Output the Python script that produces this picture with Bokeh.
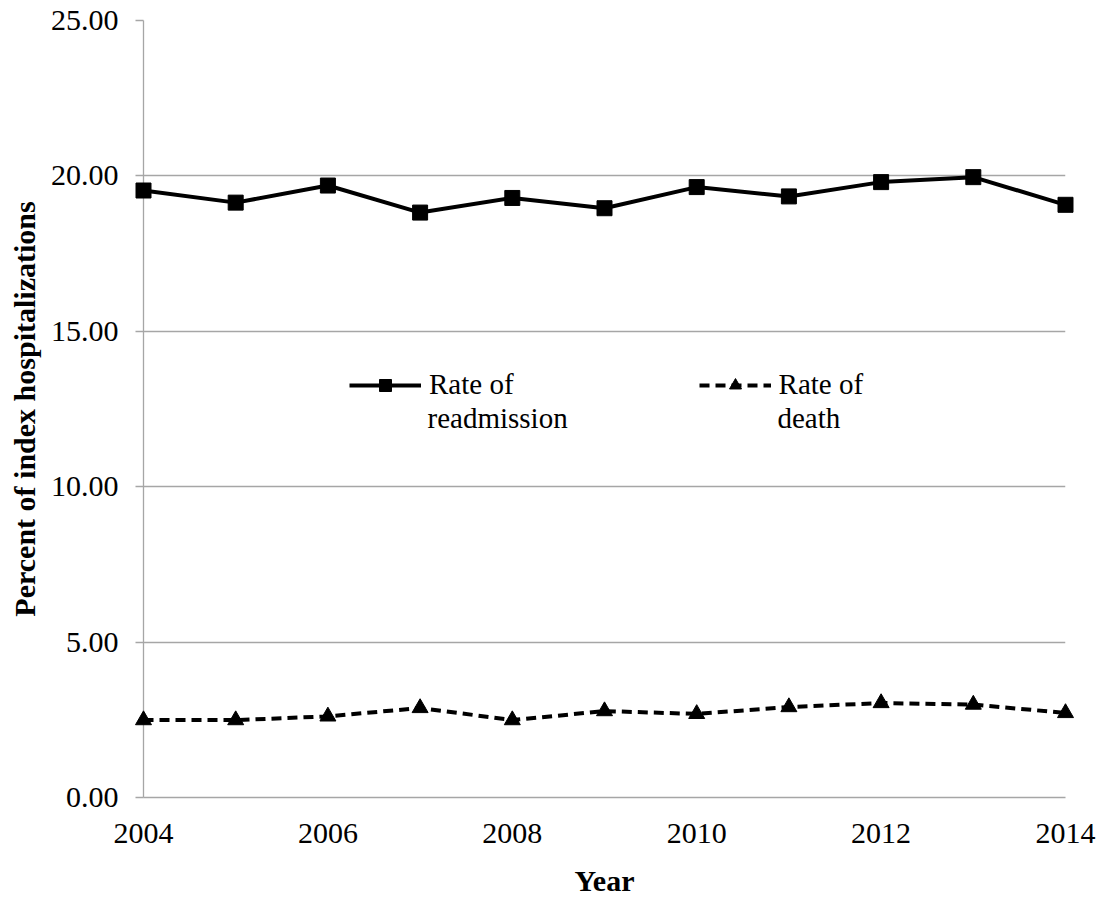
from bokeh.plotting import figure
from bokeh.models import FixedTicker, NumeralTickFormatter, Legend, LegendItem, Range1d, Label
from bokeh.embed import file_html
from bokeh.resources import INLINE

years = [2004, 2005, 2006, 2007, 2008, 2009, 2010, 2011, 2012, 2013, 2014]
readmission = [19.53, 19.14, 19.69, 18.82, 19.29, 18.96, 19.64, 19.34, 19.80, 19.96, 19.07]
death = [2.49, 2.49, 2.61, 2.88, 2.49, 2.78, 2.69, 2.91, 3.04, 2.99, 2.72]
x_ticks = [2004, 2006, 2008, 2010, 2012, 2014]
y_ticks = [0, 5, 10, 15, 20, 25]
series_first_line = ["Rate of", "Rate of"]
series_second_line = ["readmission", "death"]

FONT = "Liberation Serif"
GRID = "#a6a6a6"

p = figure(width=1118, height=899, output_backend="svg", toolbar_location=None,
           x_range=Range1d(2004, 2014), y_range=Range1d(0, 25),
           min_border_left=143, min_border_right=53, min_border_top=20, min_border_bottom=98)
p.outline_line_color = None
p.background_fill_color = "white"
p.border_fill_color = "white"

p.xgrid.grid_line_color = None
p.ygrid.grid_line_color = GRID
p.ygrid.grid_line_width = 1.3
p.ygrid.ticker = FixedTicker(ticks=y_ticks)

p.xaxis.ticker = FixedTicker(ticks=x_ticks)
p.yaxis.ticker = FixedTicker(ticks=y_ticks)
p.yaxis.formatter = NumeralTickFormatter(format="0.00")
for ax in (p.xaxis, p.yaxis):
    ax.axis_line_color = GRID
    ax.axis_line_width = 1.3
    ax.major_tick_line_color = GRID
    ax.major_tick_line_width = 1.3
    ax.minor_tick_line_color = None
    ax.major_label_text_font = FONT
    ax.major_label_text_font_size = "30px"
    ax.major_label_text_color = "black"
    ax.axis_label_text_font = FONT
    ax.axis_label_text_font_size = "30px"
    ax.axis_label_text_font_style = "bold"
    ax.axis_label_text_color = "black"
p.xaxis.major_tick_in = 0
p.xaxis.major_tick_out = 0
p.yaxis.major_tick_in = 0
p.yaxis.major_tick_out = 8
p.yaxis.major_label_standoff = 17
p.xaxis.major_label_standoff = 26
p.xaxis.axis_label = "Year"
p.yaxis.axis_label = "Percent of index hospitalizations"
p.xaxis.axis_label_standoff = 18
p.yaxis.axis_label_standoff = 7

# series drawn at overlay level so edge markers are not cut by the frame
r_line = p.line(years, readmission, line_color="black", line_width=4, level="overlay")
r_mark = p.scatter(years, readmission, marker="square", size=15,
                   fill_color="black", line_color="black", level="overlay")
d_line = p.line(years, death, line_color="black", line_width=4, line_dash="10 6", level="overlay")
d_mark = p.scatter(years, death, marker="triangle", size=16,
                   fill_color="black", line_color="black", level="overlay")

legend = Legend(items=[
    LegendItem(label=series_first_line[0], renderers=[r_line, r_mark]),
    LegendItem(label=series_first_line[1], renderers=[d_line, d_mark]),
], orientation="horizontal", location=(206, 396))
legend.background_fill_alpha = 0
legend.border_line_color = None
legend.label_text_font = FONT
legend.label_text_font_size = "29px"
legend.label_text_color = "black"
legend.glyph_width = 72
legend.glyph_height = 30
legend.label_standoff = 8
legend.spacing = 185
legend.padding = 0
legend.margin = 0
p.add_layout(legend, "center")

# second line of each legend entry
for txt, sx in zip(series_second_line, [284, 634]):
    p.add_layout(Label(x=sx, y=380, x_units="screen", y_units="screen", text=txt,
                       text_font=FONT, text_font_size="29px", text_color="black",
                       text_baseline="middle"))

open("out.html", "w").write(file_html(p, INLINE))
